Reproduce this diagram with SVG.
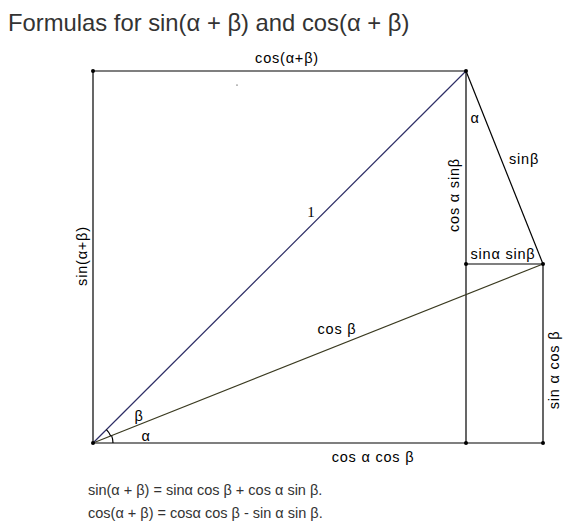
<svg xmlns="http://www.w3.org/2000/svg" width="588" height="529" viewBox="0 0 588 529">
<style>
.ln{stroke:#000;stroke-width:1.2;fill:none}
.dot{fill:#000}
.lbl{font-family:"Liberation Sans","DejaVu Sans",sans-serif;font-size:14.5px;letter-spacing:0.8px;fill:#000}
.txt{font-family:"Liberation Sans","DejaVu Sans",sans-serif;fill:#333}
</style>
<rect width="588" height="529" fill="#fff"/>
<text class="txt" x="8" y="31" font-size="23.8">Formulas for sin(α + β) and cos(α + β)</text>
<g id="connectors">
<line class="ln" x1="93" y1="71" x2="466" y2="71"/>
<line class="ln" x1="93" y1="71" x2="93" y2="443"/>
<line class="ln" x1="93" y1="443" x2="543" y2="443"/>
<line class="ln" x1="466" y1="71" x2="466" y2="443"/>
<line class="ln" x1="466" y1="264" x2="543" y2="264"/>
<line class="ln" x1="543" y1="264" x2="543" y2="443"/>
<line class="ln" x1="466" y1="71" x2="543" y2="264"/>
<line x1="93" y1="443" x2="466" y2="71" stroke="#2e2e66" stroke-width="1.2"/>
<line x1="93" y1="443" x2="543" y2="264" stroke="#3a3a20" stroke-width="1.2"/>
<path class="ln" d="M113 443 A20 20 0 0 0 111.6 435.6"/>
<path class="ln" d="M110.7 436 A19 19 0 0 0 106.4 429.6"/>
</g>
<g id="points">
<circle class="dot" cx="93" cy="71" r="2"/>
<circle class="dot" cx="466" cy="71" r="2"/>
<circle class="dot" cx="93" cy="443" r="2"/>
<circle class="dot" cx="466" cy="264" r="2"/>
<circle class="dot" cx="543" cy="264" r="2"/>
<circle class="dot" cx="466" cy="443" r="2"/>
<circle class="dot" cx="543" cy="443" r="2"/>
<circle class="dot" cx="237" cy="85" r="0.6"/>
</g>
<g id="labels">
<text class="lbl" x="287" y="63" text-anchor="middle">cos(α+β)</text>
<text x="311" y="217" text-anchor="middle" font-family="Liberation Serif,serif" font-size="15">1</text>
<text class="lbl" x="337" y="334" text-anchor="middle">cos β</text>
<text class="lbl" x="139" y="421" text-anchor="middle">β</text>
<text class="lbl" x="146" y="441" text-anchor="middle">α</text>
<text class="lbl" x="475" y="123" text-anchor="middle">α</text>
<text class="lbl" x="524" y="164" text-anchor="middle">sinβ</text>
<text class="lbl" x="503" y="259" text-anchor="middle">sinα sinβ</text>
<text class="lbl" x="373" y="462" text-anchor="middle">cos α cos β</text>
<text class="lbl" transform="translate(459,195) rotate(-90)" text-anchor="middle">cos α sinβ</text>
<text class="lbl" transform="translate(87,256) rotate(-90)" text-anchor="middle">sin(α+β)</text>
<text class="lbl" transform="translate(559,370) rotate(-90)" text-anchor="middle">sin α cos β</text>
</g>
<text class="txt" x="88" y="495" font-size="14.5">sin(α + β) = sinα cos β + cos α sin β.</text>
<text class="txt" x="88" y="518" font-size="14.5">cos(α + β) = cosα cos β - sin α sin β.</text>
</svg>
